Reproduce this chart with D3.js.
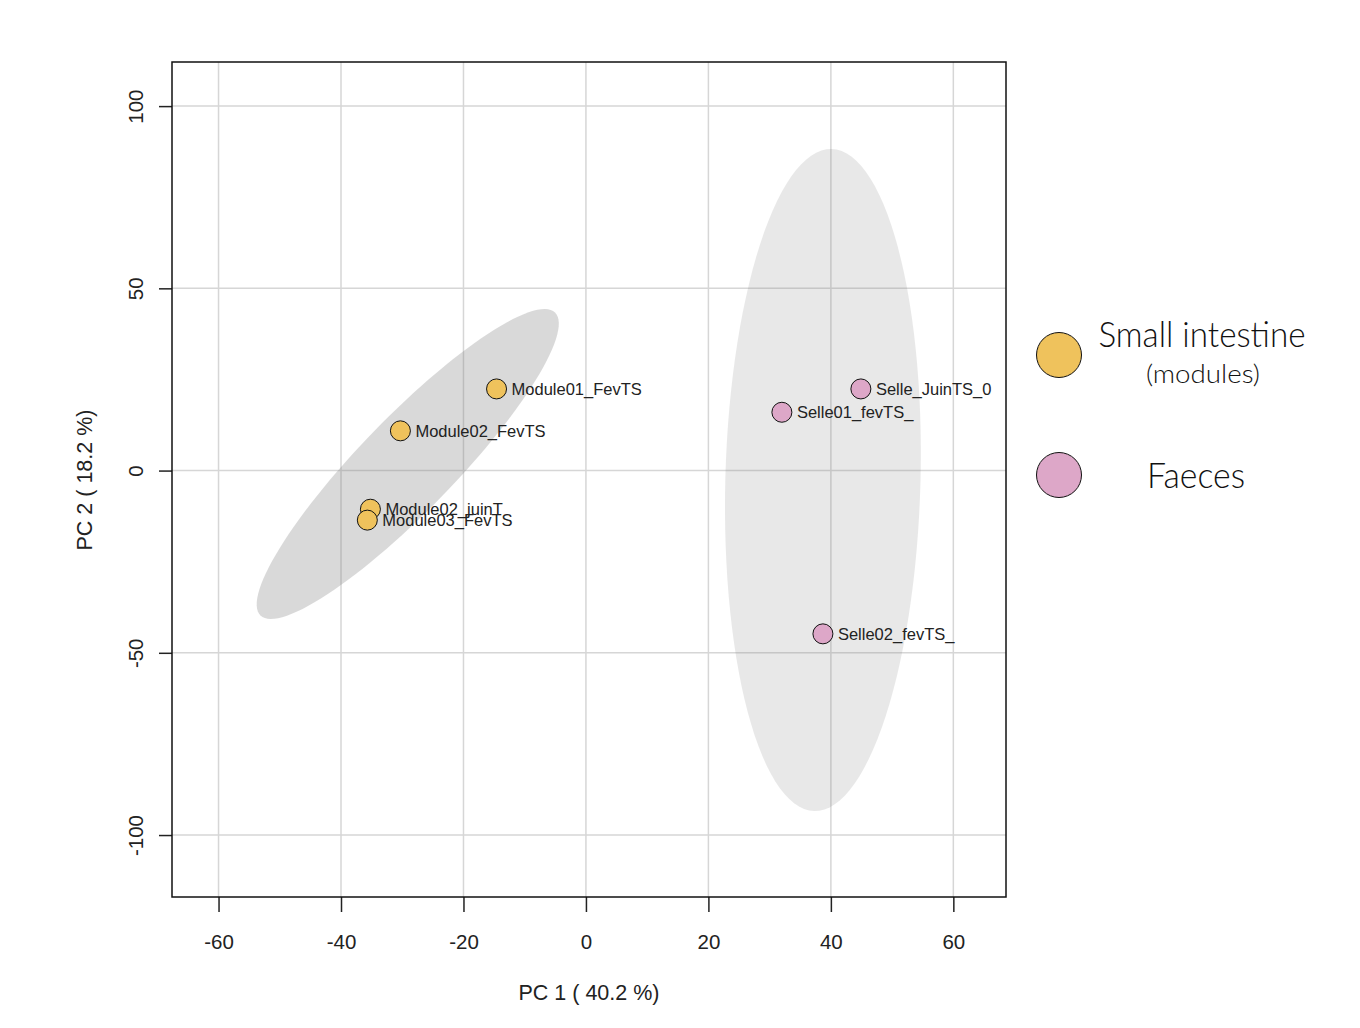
<!DOCTYPE html>
<html><head><meta charset="utf-8">
<script src="https://cdn.jsdelivr.net/npm/d3@7"></script>
<style>body{margin:0;background:#fff}</style>
</head><body>
<svg id="c" width="1360" height="1028"></svg>
<script>
const sampleNames = ["Module01_FevTS","Module02_FevTS","Module02_juinT","Module03_FevTS","Selle_JuinTS_0","Selle01_fevTS_","Selle02_fevTS_"];
const pc1 = [-14.6, -30.3, -35.2, -35.7, 44.9, 32.0, 38.7];
const pc2 = [22.4, 10.9, -10.6, -13.6, 22.4, 16.0, -44.8];
const groups = ["Small intestine","Small intestine","Small intestine","Small intestine","Faeces","Faeces","Faeces"];
const groupNames = ["Small intestine","Faeces"];
const groupColors = ["#EFC25C","#DDA7C8"];
// confidence ellipses: center and two conjugate semi-axis vectors (data units)
const ellCenterX = [-29.1, 38.7];
const ellCenterY = [1.8, -2.6];
const ellAxis1 = [[24.05, 41.56],[1.42, 90.82]];
const ellAxis2 = [[5.5, -9.0],[15.93, -0.70]];
const ellOpacity = [0.30, 0.18];
const xTicks = [-60,-40,-20,0,20,40,60];
const yTicks = [-100,-50,0,50,100];
const xTitle = "PC 1 ( 40.2 %)";
const yTitle = "PC 2 ( 18.2 %)";

const svg = d3.select("#c");
const L=172,R=1006,T=62,B=897;
const FONT = "Liberation Sans, Arial, sans-serif";
const x = d3.scaleLinear().domain([-67.6,68.6]).range([L,R]);
const y = d3.scaleLinear().domain([-117.0,112.1]).range([B,T]);
const color = d3.scaleOrdinal().domain(groupNames).range(groupColors);

// grid
svg.append("g").selectAll("line").data(xTicks).join("line")
  .attr("x1",d=>x(d)).attr("x2",d=>x(d)).attr("y1",T).attr("y2",B)
  .attr("stroke","#d6d6d6").attr("stroke-width",1.5);
svg.append("g").selectAll("line").data(yTicks).join("line")
  .attr("y1",d=>y(d)).attr("y2",d=>y(d)).attr("x1",L).attr("x2",R)
  .attr("stroke","#d6d6d6").attr("stroke-width",1.5);

// ellipses
const line = d3.line().x(d=>x(d[0])).y(d=>y(d[1]));
ellCenterX.forEach((cx,i)=>{
  const pts = d3.range(0,361,3).map(a=>{
    const t=a*Math.PI/180;
    return [cx+Math.cos(t)*ellAxis1[i][0]+Math.sin(t)*ellAxis2[i][0],
            ellCenterY[i]+Math.cos(t)*ellAxis1[i][1]+Math.sin(t)*ellAxis2[i][1]];
  });
  svg.append("path").attr("d",line(pts)+"Z")
    .attr("fill","#808080").attr("fill-opacity",ellOpacity[i]).attr("stroke","none");
});

// axes
const fmt = d=>String(d);
const xa = svg.append("g").attr("transform",`translate(0,${B})`)
  .call(d3.axisBottom(x).tickValues(xTicks).tickSize(15).tickPadding(22).tickFormat(fmt));
const ya = svg.append("g").attr("transform",`translate(${L},0)`)
  .call(d3.axisLeft(y).tickValues(yTicks).tickSize(13).tickFormat(fmt));
[xa,ya].forEach(g=>{
  g.select(".domain").remove();
  g.selectAll(".tick line").attr("stroke","#222").attr("stroke-width",1.5);
  g.selectAll("text").attr("font-family",FONT).attr("font-size",20.5).attr("fill","#222");
});
ya.selectAll(".tick text").attr("x",null).attr("dy","0.36em")
  .attr("text-anchor","middle")
  .attr("transform","translate(-36,0) rotate(-90)");

// frame
svg.append("rect").attr("x",L).attr("y",T).attr("width",R-L).attr("height",B-T)
  .attr("fill","none").attr("stroke","#111").attr("stroke-width",1.5);

// points
const data = sampleNames.map((n,i)=>({n, x:pc1[i], y:pc2[i], g:groups[i]}));
svg.append("g").selectAll("circle").data(data).join("circle")
  .attr("cx",d=>x(d.x)).attr("cy",d=>y(d.y)).attr("r",10)
  .attr("fill",d=>color(d.g)).attr("stroke","#111").attr("stroke-width",1);
svg.append("g").selectAll("text").data(data).join("text")
  .attr("x",d=>x(d.x)+15).attr("y",d=>y(d.y)).attr("dy","0.36em")
  .attr("font-family",FONT).attr("font-size",16.5).attr("fill","#222")
  .text(d=>d.n);

// axis titles
svg.append("text").attr("x",589).attr("y",1000).attr("text-anchor","middle")
  .attr("font-family",FONT).attr("font-size",21.5).attr("fill","#222").text(xTitle);
svg.append("text").attr("transform","translate(92,480) rotate(-90)").attr("text-anchor","middle")
  .attr("font-family",FONT).attr("font-size",21.5).attr("fill","#222").text(yTitle);

// legend
const lg = svg.append("g");
groupNames.forEach((g,i)=>{
  lg.append("circle").attr("cx",1059).attr("cy",355+i*120).attr("r",22.5)
    .attr("fill",groupColors[i]).attr("stroke","#111").attr("stroke-width",1);
});
lg.append("text").attr("x",1202).attr("y",347).attr("text-anchor","middle")
  .attr("font-family","Lato, sans-serif").attr("font-weight",300).attr("font-size",36)
  .attr("textLength",207).attr("lengthAdjust","spacingAndGlyphs").attr("fill","#111").text(groupNames[0]);
lg.append("text").attr("x",1203).attr("y",383).attr("text-anchor","middle")
  .attr("font-family","Lato, sans-serif").attr("font-weight",300).attr("font-size",26)
  .attr("textLength",114).attr("lengthAdjust","spacingAndGlyphs").attr("fill","#111").text("(modules)");
lg.append("text").attr("x",1196).attr("y",488).attr("text-anchor","middle")
  .attr("font-family","Lato, sans-serif").attr("font-weight",300).attr("font-size",36)
  .attr("textLength",98).attr("lengthAdjust","spacingAndGlyphs").attr("fill","#111").text(groupNames[1]);
</script>
</body></html>
